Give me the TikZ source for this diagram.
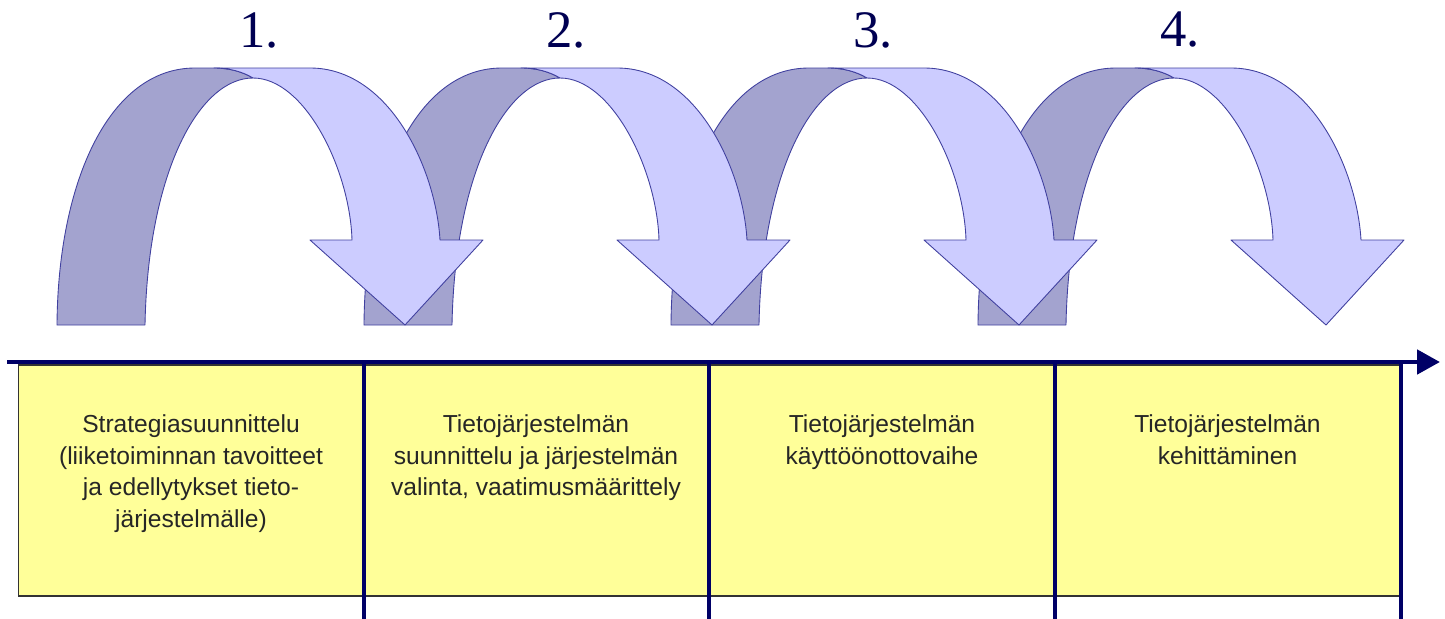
\documentclass[tikz,border=0pt]{standalone}
\usepackage{fontspec}
\setmainfont{Liberation Sans}
\newfontfamily\numfont{Liberation Serif}
\usetikzlibrary{arrows.meta}
\definecolor{backblue}{HTML}{A3A3CF}
\definecolor{frontblue}{HTML}{CCCCFF}
\definecolor{edgeblue}{HTML}{40409F}
\definecolor{navy}{HTML}{000066}
\definecolor{phaseyellow}{HTML}{FFFF99}

\begin{document}
\begin{tikzpicture}[x=0.02cm,y=-0.02cm,
    back/.style={fill=backblue,draw=edgeblue,line width=0.5pt,line join=round},
    front/.style={fill=frontblue,draw=edgeblue,line width=0.5pt,line join=round},
    phase/.style={draw=black!80,fill=phaseyellow,line width=0.8pt,minimum width=6.9cm,minimum height=4.62cm,inner sep=0pt},
    phasetext/.style={anchor=north,align=center,font=\fontsize{14}{18.2}\selectfont,text=black!85},
    num/.style={font=\numfont\fontsize{30}{30}\selectfont,text=navy!80!black},
    timeline/.style={draw=navy,line width=2.8pt,-{Triangle[length=0.46cm,width=0.48cm]}},
    divider/.style={draw=navy,line width=2.3pt}]
    \useasboundingbox (0,0) rectangle (1445,619);
                \foreach \i in {0,...,3}{
                    \path[back,shift={(\i*307,0)}] (57,325) .. controls (58,180) and (110,68) .. (195,68) -- (214,68)
                    .. controls (230,68) and (243,72) .. (253,78) .. controls (200,78) and (148,170) .. (145,325) -- cycle;
                }
                \foreach \i in {0,...,3}{
                    \path[front,shift={(\i*307,0)}] (214,68) -- (310,68) .. controls (390,68) and (436,170) .. (440,240)
                    -- (483,240) -- (405,325) -- (310,240) -- (352,240) .. controls (350,170) and (305,78) .. (253,78)
                    .. controls (243,72) and (230,68) .. (214,68) -- cycle;
                }
                \foreach \i [count=\n] in {0,...,3}
                    \node[num](n\n)at(259+\i*307, 30){\n.};
                \node[phase](b1)at(191, 480.5){};
                \node[phase](b2)at(536, 480.5){};
                \node[phase](b3)at(882, 480.5){};
                \node[phase](b4)at(1227.5, 480.5){};
                \node[phasetext](t1)at(191, 408){Strategiasuunnittelu\\(liiketoiminnan tavoitteet\\ja edellytykset tieto-\\järjestelmälle)};
                \node[phasetext](t2)at(536, 408){Tietojärjestelmän\\suunnittelu ja järjestelmän\\valinta, vaatimusmäärittely};
                \node[phasetext](t3)at(882, 408){Tietojärjestelmän\\käyttöönottovaihe};
                \node[phasetext](t4)at(1227.5, 408){Tietojärjestelmän\\kehittäminen};
                \coordinate(tl0)at(7, 362);
                \coordinate(tl1)at(1440, 362);
                \foreach \b in {b1,b2,b3,b4}
                    \path[divider](\b.north east) -- ++(0, 259);
                \path[timeline](tl0) -- (tl1);
            \end{tikzpicture}
\end{document}
